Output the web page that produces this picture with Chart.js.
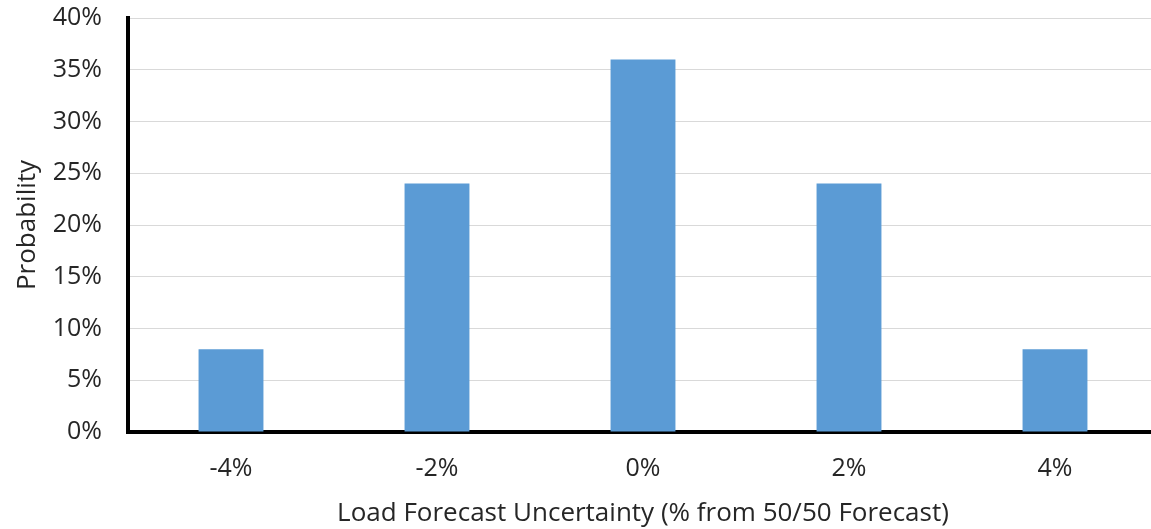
<!DOCTYPE html>
<html lang="en">
<head>
  <meta charset="UTF-8">
  <title>Load Forecast Uncertainty</title>
  <script src="https://cdn.jsdelivr.net/npm/chart.js"></script>
  <style>
    html, body { margin: 0; padding: 0; background: #fff; overflow: hidden; }
    /* the original is cropped on the right, so the canvas is a bit wider than the frame */
    #wrap { width: 1151px; height: 529px; overflow: hidden; }
  </style>
</head>
<body>
  <div id="wrap"><canvas id="plot" width="1158" height="529"></canvas></div>

  <script>
    const categories = ["-4%", "-2%", "0%", "2%", "4%"];
    const probability = [8, 24, 36, 24, 8];
    const yTicks = [0, 5, 10, 15, 20, 25, 30, 35, 40];

    const family = "'Open Sans', 'Liberation Sans', sans-serif";
    const tickFont = { family: family, size: 25 };
    const titleFont = { family: family, size: 26 };

    new Chart(document.getElementById("plot"), {
      type: "bar",
      data: {
        labels: categories,
        datasets: [{
          label: "Probability",
          data: probability,
          backgroundColor: "#5b9bd5",
          categoryPercentage: 1,
          barPercentage: 0.315
        }]
      },
      options: {
        responsive: false,
        animation: false,
        plugins: { legend: { display: false }, tooltip: { enabled: false } },
        layout: { padding: { top: 18, right: 0, left: 0, bottom: 0 } },
        scales: {
          x: {
            grid: { display: false },
            border: { color: "#000", width: 4 },
            ticks: { color: "#262626", font: tickFont, padding: 14, maxRotation: 0 },
            title: { display: true, text: "Load Forecast Uncertainty (% from 50/50 Forecast)", color: "#262626", font: titleFont, padding: { top: 8, bottom: 0 } },
            afterFit: s => { s.height = 97; s.paddingLeft = 0; s.paddingRight = 0; }
          },
          y: {
            min: 0, max: 40,
            afterBuildTicks: s => { s.ticks = yTicks.map(v => ({ value: v })); },
            grid: { color: "#d9d9d9", lineWidth: 1, drawTicks: false },
            border: { color: "#000", width: 4 },
            ticks: { color: "#262626", font: tickFont, padding: 26, callback: v => v + "%" },
            title: { display: true, text: "Probability", color: "#262626", font: titleFont, padding: { top: 12, bottom: 0 } },
            afterFit: s => { s.width = 128; s.paddingTop = 0; s.paddingBottom = 0; }
          }
        }
      }
    });
  </script>
</body>
</html>
